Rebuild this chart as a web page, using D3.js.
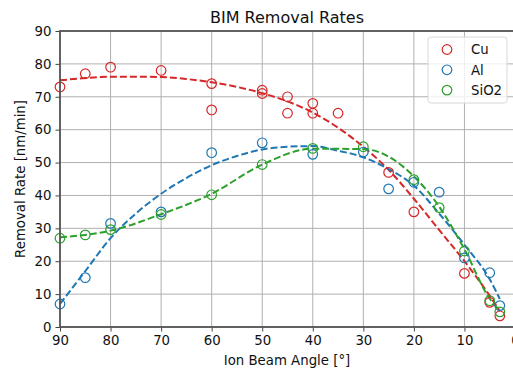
<!DOCTYPE html>
<html>
<head>
<meta charset="utf-8">
<script src="https://cdn.jsdelivr.net/npm/d3@7"></script>
<style>
  body { margin: 0; background: #fff; }
  svg { display: block; font-family: "DejaVu Sans", sans-serif; }
</style>
</head>
<body>
<div id="chart"></div>
<script>
// measured points
const cuAngles = [90, 85, 80, 70, 60, 60, 50, 50, 45, 45, 40, 40, 35, 25, 20, 10, 5, 3];
const cuRates  = [73, 77, 79, 78, 74, 66, 72, 71, 70, 65, 68, 65, 65, 47, 35, 16.3, 7.5, 3.4];

const alAngles = [90, 85, 80, 70, 60, 50, 40, 30, 25, 20, 15, 10, 5, 3];
const alRates  = [7, 15, 31.5, 35, 53, 56, 52.5, 53.2, 42, 44, 41, 21, 16.5, 6.5];

const sioAngles = [90, 85, 80, 70, 60, 50, 40, 30, 20, 15, 10, 5, 3];
const sioRates  = [27, 28, 29.6, 34.2, 40.2, 49.4, 54.3, 54.8, 44.8, 36.3, 23.1, 8, 4.6];

// fitted (dashed) curves
const cuFitAngles = [90, 85, 80, 75, 70, 65, 60, 55, 50, 45, 40, 35, 30, 25, 20, 15, 10, 5, 3];
const cuFitRates  = [75, 75.7, 76.1, 76.1, 76, 75.4, 74.4, 73, 71.1, 68.6, 65.2, 60.6, 54.8, 47.8, 39, 29.5, 20, 9.5, 4.8];

const alFitAngles = [90, 85, 80, 75, 70, 65, 60, 55, 50, 45, 40, 35, 30, 25, 20, 15, 10, 5, 3];
const alFitRates  = [7, 17, 27, 34.5, 40.5, 45.3, 49.2, 52, 54, 54.8, 55, 53.6, 51.6, 48, 43, 34.5, 25, 14.5, 8.5];

const sioFitAngles = [90, 85, 80, 70, 60, 50, 40, 30, 20, 15, 10, 5, 3];
const sioFitRates  = [27.3, 28, 29.3, 34.3, 40.5, 49.4, 54.2, 54.1, 45.8, 36.6, 23.6, 8.6, 5];

const xTicks = [90, 80, 70, 60, 50, 40, 30, 20, 10, 0];
const yTicks = [0, 10, 20, 30, 40, 50, 60, 70, 80, 90];

const series = [
  { name: "Cu",   color: "#d62728", xs: cuAngles,  ys: cuRates,  fx: cuFitAngles,  fy: cuFitRates },
  { name: "Al",   color: "#1f77b4", xs: alAngles,  ys: alRates,  fx: alFitAngles,  fy: alFitRates },
  { name: "SiO2", color: "#2ca02c", xs: sioAngles, ys: sioRates, fx: sioFitAngles, fy: sioFitRates }
];

const width = 513, height = 369;
const margin = { top: 31, right: -2, bottom: 42, left: 60 };
const innerW = width - margin.left - margin.right;
const innerH = height - margin.top - margin.bottom;
const fs = "13.3px";

const svg = d3.select("#chart").append("svg")
  .attr("width", width)
  .attr("height", height);

const g = svg.append("g")
  .attr("transform", `translate(${margin.left},${margin.top})`);

const x = d3.scaleLinear().domain([90, 0]).range([0, innerW]);
const y = d3.scaleLinear().domain([0, 90]).range([innerH, 0]);

// grid
g.append("g").selectAll("line").data(xTicks).enter().append("line")
  .attr("x1", d => x(d)).attr("x2", d => x(d))
  .attr("y1", 0).attr("y2", innerH)
  .attr("stroke", "#b0b0b0").attr("stroke-width", 1);
g.append("g").selectAll("line").data(yTicks).enter().append("line")
  .attr("x1", 0).attr("x2", innerW)
  .attr("y1", d => y(d)).attr("y2", d => y(d))
  .attr("stroke", "#b0b0b0").attr("stroke-width", 1);

// fit lines
const line = d3.line().x(d => x(d[0])).y(d => y(d[1])).curve(d3.curveMonotoneX);
series.forEach(s => {
  g.append("path")
    .datum(d3.zip(s.fx, s.fy))
    .attr("fill", "none")
    .attr("stroke", s.color)
    .attr("stroke-width", 2)
    .attr("stroke-dasharray", "7,3")
    .attr("d", line);
});

// points
series.forEach(s => {
  g.append("g").selectAll("circle")
    .data(d3.zip(s.xs, s.ys))
    .enter().append("circle")
    .attr("cx", d => x(d[0]))
    .attr("cy", d => y(d[1]))
    .attr("r", 4.8)
    .attr("fill", "none")
    .attr("stroke", s.color)
    .attr("stroke-width", 1.2);
});

// axes
const xAxis = g.append("g")
  .attr("transform", `translate(0,${innerH})`)
  .call(d3.axisBottom(x).tickValues(xTicks).tickSize(4.5).tickPadding(4));
const yAxis = g.append("g")
  .call(d3.axisLeft(y).tickValues(yTicks).tickSize(4.5).tickPadding(4));

[xAxis, yAxis].forEach(a => {
  a.select(".domain").remove();
  a.selectAll("line").attr("stroke", "#444").attr("stroke-width", 1);
  a.selectAll("text").attr("fill", "#111").style("font-size", fs)
    .style("font-family", "DejaVu Sans, sans-serif");
});

// frame
g.append("rect")
  .attr("x", 0).attr("y", 0)
  .attr("width", innerW).attr("height", innerH)
  .attr("fill", "none")
  .attr("stroke", "#555")
  .attr("stroke-width", 1.8);

// title and labels
svg.append("text")
  .attr("x", 287).attr("y", 23)
  .attr("text-anchor", "middle")
  .style("font-size", "16px")
  .attr("fill", "#111")
  .text("BIM Removal Rates");

svg.append("text")
  .attr("x", 287).attr("y", 365)
  .attr("text-anchor", "middle")
  .style("font-size", fs)
  .attr("fill", "#111")
  .text("Ion Beam Angle [°]");

svg.append("text")
  .attr("transform", `translate(25,${margin.top + innerH / 2}) rotate(-90)`)
  .attr("text-anchor", "middle")
  .style("font-size", fs)
  .attr("fill", "#111")
  .text("Removal Rate [nm/min]");

// legend
const legend = svg.append("g").attr("transform", "translate(428,37)");
legend.append("rect")
  .attr("width", 79).attr("height", 66).attr("rx", 3)
  .attr("fill", "rgba(255,255,255,0.8)")
  .attr("stroke", "#d8d8d8");
series.forEach((s, i) => {
  const row = legend.append("g").attr("transform", `translate(0,${12.5 + i * 20.3})`);
  row.append("circle").attr("cx", 19).attr("cy", 0).attr("r", 4.8)
    .attr("fill", "none").attr("stroke", s.color).attr("stroke-width", 1.2);
  row.append("text").attr("x", 43).attr("y", 4.8)
    .style("font-size", fs).attr("fill", "#111").text(s.name);
});
</script>
</body>
</html>
